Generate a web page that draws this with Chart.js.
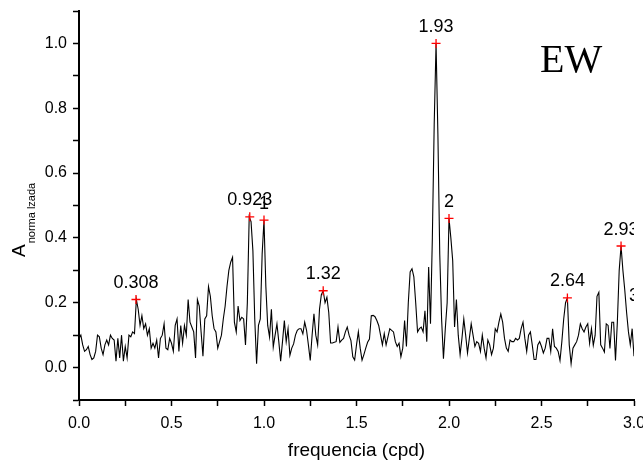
<!DOCTYPE html>
<html><head><meta charset="utf-8">
<script src="https://cdn.jsdelivr.net/npm/chart.js@4/dist/chart.umd.min.js"></script>
<style>html,body{margin:0;padding:0;background:#fff}#wrap{width:643px;height:462px;position:relative}canvas{display:block}</style>
</head><body><div id="wrap"><canvas id="c" width="643" height="462"></canvas></div>
<script>
// sampling grid of the periodogram (cpd)
const freqStart = 0;
const freqStep = 0.01;
// normalised amplitude, one value per grid frequency (0.00 ... 3.00)
const amplitude = [
  0.09, 0.10, 0.07, 0.05, 0.055, 0.065, 0.04, 0.025, 0.03, 0.05,
  0.10, 0.095, 0.06, 0.04, 0.07, 0.085, 0.07, 0.10, 0.09, 0.085,
  0.02, 0.09, 0.03, 0.10, 0.02, 0.065, 0.03, 0.10, 0.095, 0.11,
  0.105, 0.21, 0.18, 0.13, 0.16, 0.12, 0.135, 0.10, 0.12, 0.06,
  0.075, 0.06, 0.085, 0.03, 0.09, 0.10, 0.135, 0.06, 0.055, 0.09,
  0.075, 0.05, 0.13, 0.15, 0.05, 0.13, 0.075, 0.13, 0.10, 0.21,
  0.14, 0.125, 0.11, 0.03, 0.21, 0.19, 0.11, 0.035, 0.15, 0.16,
  0.25, 0.22, 0.16, 0.12, 0.11, 0.06, 0.08, 0.10, 0.15, 0.19,
  0.25, 0.30, 0.325, 0.34, 0.14, 0.11, 0.19, 0.145, 0.155, 0.15,
  0.07, 0.20, 0.465, 0.45, 0.36, 0.15, 0.012, 0.13, 0.15, 0.35,
  0.455, 0.25, 0.13, 0.094, 0.18, 0.063, 0.10, 0.135, 0.08, 0.02,
  0.08, 0.145, 0.08, 0.12, 0.038, 0.06, 0.073, 0.10, 0.115, 0.12,
  0.12, 0.104, 0.14, 0.115, 0.07, 0.022, 0.10, 0.166, 0.10, 0.07,
  0.18, 0.225, 0.237, 0.20, 0.217, 0.17, 0.076, 0.076, 0.078, 0.08,
  0.125, 0.078, 0.085, 0.09, 0.11, 0.125, 0.10, 0.083, 0.033, 0.023,
  0.07, 0.11, 0.06, 0.023, 0.04, 0.06, 0.078, 0.088, 0.16, 0.161,
  0.157, 0.145, 0.13, 0.10, 0.07, 0.105, 0.07, 0.095, 0.12, 0.115,
  0.11, 0.08, 0.065, 0.075, 0.033, 0.06, 0.145, 0.065, 0.20, 0.295,
  0.305, 0.28, 0.20, 0.11, 0.12, 0.125, 0.11, 0.175, 0.08, 0.31,
  0.135, 0.40, 0.75, 1.0, 0.72, 0.35, 0.15, 0.027, 0.12, 0.20,
  0.46, 0.40, 0.33, 0.125, 0.21, 0.10, 0.04, 0.09, 0.15, 0.10,
  0.045, 0.09, 0.135, 0.10, 0.065, 0.08, 0.075, 0.05, 0.10, 0.06,
  0.03, 0.085, 0.07, 0.04, 0.06, 0.12, 0.11, 0.14, 0.165, 0.14,
  0.09, 0.06, 0.05, 0.085, 0.08, 0.08, 0.09, 0.085, 0.09, 0.12,
  0.14, 0.09, 0.05, 0.10, 0.11, 0.07, 0.025, 0.025, 0.07, 0.08,
  0.065, 0.045, 0.06, 0.09, 0.09, 0.05, 0.12, 0.065, 0.06, 0.05,
  0.022, 0.08, 0.15, 0.20, 0.215, 0.07, 0.012, 0.06, 0.07, 0.08,
  0.10, 0.135, 0.12, 0.11, 0.125, 0.135, 0.075, 0.12, 0.069, 0.10,
  0.22, 0.232, 0.07, 0.06, 0.048, 0.135, 0.13, 0.059, 0.14, 0.14,
  0.022, 0.14, 0.30, 0.375, 0.30, 0.24, 0.17, 0.11, 0.07, 0.12,
  0.035
];
// identified peaks
const peakFreqs   = [0.308, 0.923, 1.0, 1.32, 1.93, 2.0, 2.64, 2.93, 3.0];
const peakAmps    = [0.21, 0.465, 0.455, 0.237, 1.0, 0.46, 0.215, 0.375, 0.17];
const peakLabels  = ['0.308', '0.923', '1', '1.32', '1.93', '2', '2.64', '2.93', '3'];
const peakVisible = [1, 1, 1, 1, 1, 1, 1, 1, 0];
// tick labels
const xTickLabels = ['0.0', '0.5', '1.0', '1.5', '2.0', '2.5', '3.0'];
const yTickLabels = ['0.0', '0.2', '0.4', '0.6', '0.8', '1.0'];
const xTitle = 'frequencia (cpd)';
const yTitleMain = 'A';
const yTitleSub = 'norma lzada';
const panelLabel = 'EW';

const SANS = '"Liberation Sans", Arial, sans-serif';
Chart.defaults.font.family = SANS;
Chart.defaults.color = '#000';

const lineData = amplitude.map((v, i) => ({x: freqStart + i * freqStep, y: v}));
const peakData = peakFreqs.map((f, i) => ({x: f, y: peakAmps[i]}));

const decorPlugin = {
  id: 'decor',
  afterDatasetsDraw(chart) {
    const ctx = chart.ctx, a = chart.chartArea;
    const xs = chart.scales.x, ys = chart.scales.y;
    ctx.save();
    ctx.beginPath();
    ctx.rect(a.left, 0, a.right - a.left, a.bottom);
    ctx.clip();
    ctx.fillStyle = '#000';
    ctx.font = '18px ' + SANS;
    ctx.textAlign = 'center';
    ctx.textBaseline = 'alphabetic';
    peakLabels.forEach((t, i) => {
      const px = xs.getPixelForValue(peakFreqs[i]);
      const py = ys.getPixelForValue(peakAmps[i]);
      ctx.fillText(t, px, py - 11.5);
    });
    ctx.restore();
  },
  afterDraw(chart) {
    const ctx = chart.ctx, a = chart.chartArea;
    ctx.save();
    ctx.fillStyle = '#000';
    // panel label
    ctx.font = '40px "Liberation Serif", "Times New Roman", serif';
    ctx.textAlign = 'left';
    ctx.textBaseline = 'alphabetic';
    ctx.fillText(panelLabel, a.left + 461, a.top + 61);
    // y axis title with subscript
    ctx.translate(25, 257);
    ctx.rotate(-Math.PI / 2);
    ctx.font = '19px ' + SANS;
    ctx.fillText(yTitleMain, 0, 0);
    const w = ctx.measureText(yTitleMain).width;
    ctx.font = '11px ' + SANS;
    ctx.fillText(yTitleSub, w + 1, 10);
    ctx.restore();
  }
};

new Chart(document.getElementById('c'), {
  type: 'scatter',
  data: {
    datasets: [
      {
        data: peakData,
        order: 0,
        showLine: false,
        pointStyle: 'cross',
        pointRadius: peakVisible.map(v => v ? 4.5 : 0),
        pointHoverRadius: 0,
        borderColor: '#ff0000',
        backgroundColor: '#ff0000',
        pointBorderWidth: 1.3
      },
      {
        data: lineData,
        order: 1,
        showLine: true,
        pointRadius: 0,
        borderColor: '#000',
        borderWidth: 1.1,
        tension: 0
      }
    ]
  },
  options: {
    responsive: false,
    animation: false,
    devicePixelRatio: 1,
    layout: {padding: {top: 11, right: 9, left: 0, bottom: 0}},
    plugins: {legend: {display: false}, tooltip: {enabled: false}},
    scales: {
      x: {
        type: 'linear', position: 'bottom', min: 0, max: 3,
        ticks: {
          stepSize: 0.25, autoSkip: false, maxRotation: 0, padding: 8,
          font: {size: 16}, color: '#000',
          callback: (v) => {
            const s = v.toFixed(1);
            return (Math.abs(v * 2 - Math.round(v * 2)) < 1e-6 && xTickLabels.includes(s)) ? s : '';
          }
        },
        grid: {drawOnChartArea: false, drawTicks: true, tickLength: 6, tickWidth: 1.5, tickColor: '#000'},
        border: {display: true, color: '#000', width: 2},
        title: {display: true, text: xTitle, color: '#000', font: {size: 19}, padding: {top: 4, bottom: 0}},
        afterFit: (s) => { s.height = 62; s.paddingRight = 0; s.paddingLeft = 0; }
      },
      y: {
        type: 'linear', min: -0.1, max: 1.1,
        ticks: {
          stepSize: 0.1, maxTicksLimit: 30, autoSkip: false, padding: 6,
          font: {size: 16}, color: '#000',
          callback: (v) => {
            const s = v.toFixed(1);
            return (Math.round(v * 10) % 2 === 0 && yTickLabels.includes(s)) ? s : '';
          }
        },
        grid: {drawOnChartArea: false, drawTicks: true, tickLength: 6, tickWidth: 1.5, tickColor: '#000'},
        border: {display: true, color: '#000', width: 2},
        title: {display: false},
        afterFit: (s) => { s.width = 79; s.paddingTop = 0; s.paddingBottom = 0; }
      }
    }
  },
  plugins: [decorPlugin]
});
</script>
</body></html>
